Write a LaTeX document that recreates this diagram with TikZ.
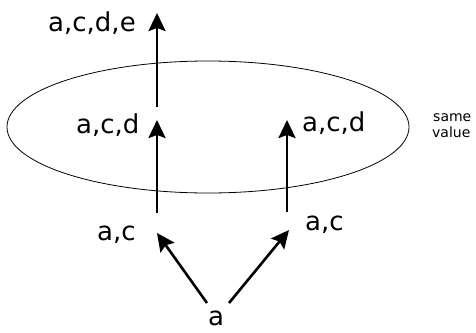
\documentclass[tikz,border=0pt]{standalone}
\usepackage{fontspec}
\setmainfont{DejaVu Sans}
\usetikzlibrary{arrows.meta}
\tikzset{
  lbl/.style={inner sep=0pt, anchor=base west, font=\fontsize{26}{31}\selectfont},
  small/.style={inner sep=0pt, anchor=base west, font=\fontsize{14}{13}\selectfont},
  arr/.style={line width=2.6pt, -{Stealth[length=18pt,width=17pt,inset=3pt]}},
  ring/.style={line width=0.8pt}
}
\begin{document}
\begin{tikzpicture}[x=1pt,y=-1pt]
\useasboundingbox (0,0) rectangle (476,332);
% ellipse
\draw[ring] (208,127) ellipse [x radius=201pt, y radius=66pt];
% labels
\node[lbl] (acde) at (48,31) {a,c,d,e};
\node[lbl] (acdL) at (76,133) {a,c,d};
\node[lbl] (acdR) at (302,131) {a,c,d};
\node[lbl] (acL) at (97,240) {a,c};
\node[lbl] (acR) at (305,230) {a,c};
\node[lbl] (a) at (208,325) {a};
\node[small] (same) at (433,121) {same};
\node[small] (value) at (432,137) {value};
% arrow ends
\coordinate (t0s) at (157,107);
\coordinate (t0e) at (157,13);
\coordinate (l1s) at (157,213);
\coordinate (l1e) at (157,120);
\coordinate (r1s) at (287,212);
\coordinate (r1e) at (287,120);
\coordinate (l2s) at (207,303);
\coordinate (l2e) at (157,233);
\coordinate (r2s) at (229,303);
\coordinate (r2e) at (289,230);
\draw[arr] (t0s) -- (t0e);
\draw[arr] (l1s) -- (l1e);
\draw[arr] (r1s) -- (r1e);
\draw[arr] (l2s) -- (l2e);
\draw[arr] (r2s) -- (r2e);
\end{tikzpicture}
\end{document}
